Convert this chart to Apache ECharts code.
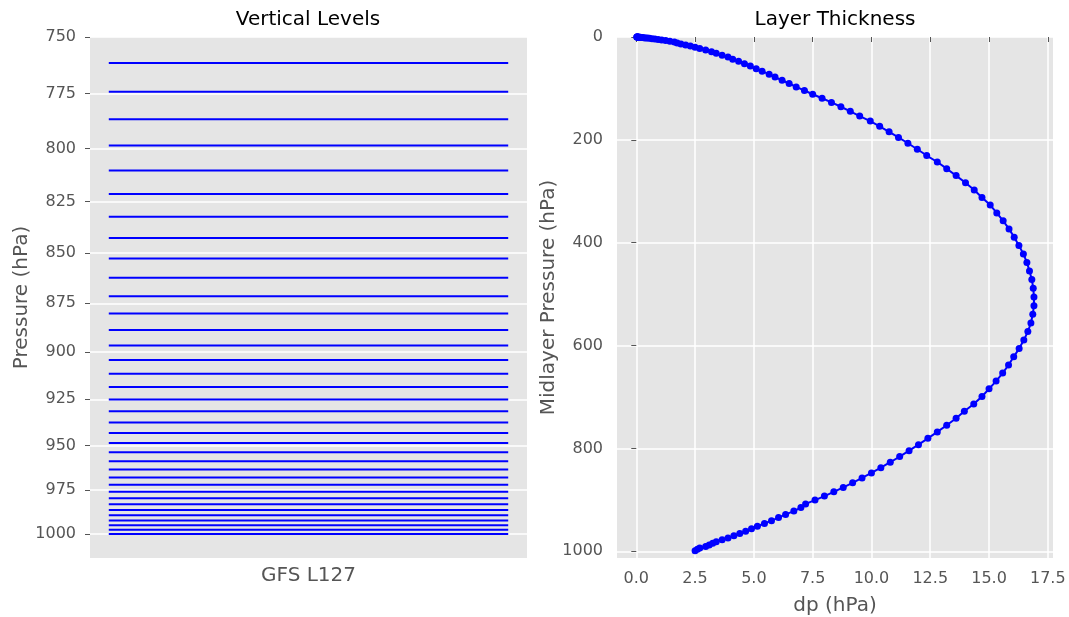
<!DOCTYPE html>
<html>
<head>
<meta charset="utf-8">
<title>GFS L127</title>
<script src="https://cdn.jsdelivr.net/npm/echarts@6/dist/echarts.min.js"></script>
<style>
  html, body { margin: 0; padding: 0; background: #ffffff; }
  #main { width: 1069px; height: 617px; }
</style>
</head>
<body>
<div id="main"></div>
<script>
// interface pressures of the column, model top to surface (hPa)
const levels = [
  0.00, 0.02, 0.05, 0.09, 0.14, 0.21, 0.30, 0.41, 0.55, 0.72,
  0.93, 1.19, 1.51, 1.90, 2.37, 2.93, 3.60, 4.39, 5.32, 6.40,
  7.65, 9.08, 10.70, 12.44, 14.34, 16.44, 18.74, 21.24, 23.94, 26.89,
  30.09, 33.49, 37.14, 41.04, 45.14, 49.49, 54.09, 58.94, 64.04, 69.39,
  75.04, 80.94, 87.14, 93.64, 100.44, 107.59, 115.09, 122.99, 131.29, 139.99,
  149.09, 158.59, 168.54, 178.89, 189.64, 200.79, 212.34, 224.29, 236.64, 249.44,
  262.64, 276.24, 290.24, 304.61, 319.31, 334.36, 349.69, 365.29, 381.14, 397.21,
  413.48, 429.94, 446.55, 463.27, 480.09, 496.97, 513.88, 530.79, 547.65, 564.43,
  581.08, 597.56, 613.84, 629.89, 645.72, 661.30, 676.60, 691.60, 706.30, 720.65,
  734.60, 748.20, 761.40, 774.20, 786.60, 798.60, 810.20, 821.40, 832.20, 842.60,
  852.60, 862.20, 871.40, 880.20, 888.60, 896.60, 904.20, 911.40, 918.40, 925.10,
  931.45, 937.50, 943.25, 948.70, 953.85, 958.75, 963.40, 967.80, 971.95, 975.85,
  979.50, 982.90, 986.15, 989.25, 992.20, 994.90, 997.50, 1000.00
];
const columnNames = ["GFS L127"];
const pressureTicks = [750, 775, 800, 825, 850, 875, 900, 925, 950, 975, 1000];
const midTicks = [0, 200, 400, 600, 800, 1000];
const dpTicks = [0, 2.5, 5, 7.5, 10, 12.5, 15, 17.5];

const FONT = "DejaVu Sans";
const TICK_COLOR = "#555555";
const BLUE = "#0000ff";

// levels shown on the left panel
const lowLevels = levels.filter(p => p >= 750).map(p => [0, p]);

// layer thickness against midlayer pressure
const layers = [];
for (let i = 0; i < levels.length - 1; ++i) {
  layers.push([levels[i + 1] - levels[i], (levels[i] + levels[i + 1]) / 2]);
}

const tickLabel = { color: TICK_COLOR, fontFamily: FONT, fontSize: 16 };
const whiteGrid = { show: true, lineStyle: { color: "#ffffff", width: 1.5 } };
const outTick = { show: true, length: 5, lineStyle: { color: TICK_COLOR, width: 1 } };
const axisName = { color: TICK_COLOR, fontFamily: FONT, fontSize: 20 };

const chart = echarts.init(document.getElementById("main"), null, { renderer: "canvas" });
chart.setOption({
  animation: false,
  backgroundColor: "#ffffff",
  title: [
    { text: "Vertical Levels", left: 308, top: 10, padding: 0, textAlign: "center",
      textStyle: { color: "#000000", fontFamily: FONT, fontSize: 20, fontWeight: "normal" } },
    { text: "Layer Thickness", left: 835, top: 10, padding: 0, textAlign: "center",
      textStyle: { color: "#000000", fontFamily: FONT, fontSize: 20, fontWeight: "normal" } }
  ],
  grid: [
    { left: 90, top: 37, width: 437, height: 521, outerBoundsMode: "none",
      show: true, backgroundColor: "#e5e5e5", borderWidth: 0 },
    { left: 617, top: 37, width: 436, height: 521, outerBoundsMode: "none",
      show: true, backgroundColor: "#e5e5e5", borderWidth: 0 }
  ],
  xAxis: [
    {
      gridIndex: 0, type: "category", data: columnNames,
      axisLine: { show: false }, axisTick: { show: false }, splitLine: { show: false },
      axisLabel: { color: TICK_COLOR, fontFamily: FONT, fontSize: 20, margin: 8 }
    },
    {
      gridIndex: 1, type: "value", min: -0.82, max: 17.72,
      name: "dp (hPa)", nameLocation: "middle", nameGap: 38, nameTextStyle: axisName,
      axisLine: { show: false },
      axisTick: Object.assign({ customValues: dpTicks }, outTick),
      axisLabel: Object.assign({ customValues: dpTicks, margin: 13, formatter: v => v.toFixed(1) }, tickLabel),
      splitLine: whiteGrid
    }
  ],
  yAxis: [
    {
      gridIndex: 0, type: "log", logBase: 10, min: 750, max: 1014, inverse: true,
      name: "Pressure (hPa)", nameLocation: "middle", nameGap: 58, nameTextStyle: axisName,
      axisLine: { show: false },
      axisTick: Object.assign({ customValues: pressureTicks }, outTick),
      axisLabel: Object.assign({ customValues: pressureTicks, margin: 14, formatter: v => String(Math.round(v)) }, tickLabel),
      splitLine: whiteGrid
    },
    {
      gridIndex: 1, type: "value", min: 0, max: 1013, inverse: true,
      name: "Midlayer Pressure (hPa)", nameLocation: "middle", nameGap: 52, nameTextStyle: axisName,
      axisLine: { show: false },
      axisTick: Object.assign({ customValues: midTicks }, outTick),
      axisLabel: Object.assign({ customValues: midTicks, margin: 14, formatter: v => String(Math.round(v)) }, tickLabel),
      splitLine: whiteGrid
    }
  ],
  series: [
    {
      type: "custom",
      xAxisIndex: 0, yAxisIndex: 0,
      data: lowLevels,
      encode: { x: 0, y: 1 },
      renderItem: function (params, api) {
        const cs = params.coordSys;
        const pt = api.coord([0, api.value(1)]);
        return {
          type: "line",
          shape: { x1: cs.x + cs.width * 0.043, y1: pt[1], x2: cs.x + cs.width * 0.957, y2: pt[1] },
          style: { stroke: BLUE, lineWidth: 2 }
        };
      }
    },
    {
      type: "line",
      xAxisIndex: 1, yAxisIndex: 1,
      data: layers,
      symbol: "circle", symbolSize: 7, showSymbol: true, showAllSymbol: true,
      itemStyle: { color: BLUE },
      lineStyle: { color: BLUE, width: 2 }
    }
  ]
});
</script>
</body>
</html>
